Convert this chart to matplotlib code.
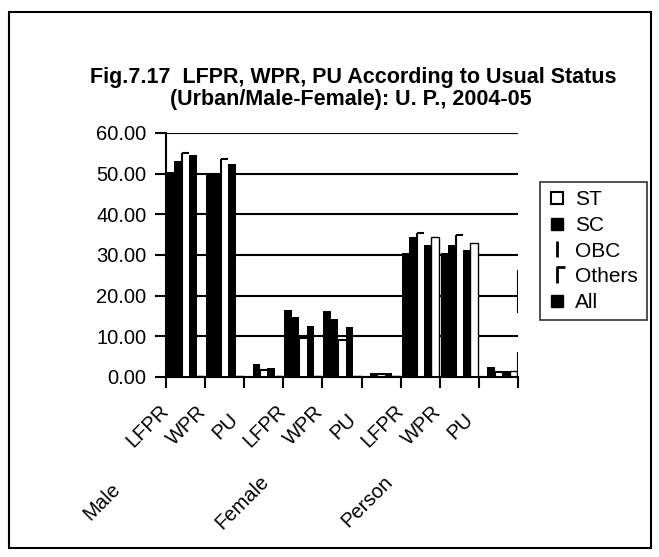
import matplotlib.pyplot as plt
import numpy as np
from matplotlib.path import Path
from matplotlib.lines import Line2D
from matplotlib.patches import Rectangle
from matplotlib.transforms import blended_transform_factory, offset_copy

plt.rcParams['font.family'] = ['Liberation Sans', 'DejaVu Sans']

# indicator per sex group
categories = ['LFPR', 'WPR', 'PU', 'LFPR', 'WPR', 'PU', 'LFPR', 'WPR', 'PU']
groups = ['Male', 'Female', 'Person']

sc = [50.4, 50.2, 0.2, 16.5, 16.3, 0.2, 30.5, 30.4, 0.3]
obc = [53.0, 49.6, 3.3, 14.7, 14.3, 1.0, 34.4, 32.4, 2.5]
others = [55.2, 53.5, 1.8, 9.5, 9.0, 0.8, 35.4, 34.9, 1.2]
all_ = [54.5, 52.5, 2.2, 12.5, 12.3, 1.0, 32.5, 31.2, 1.5]
st = [0.3, 0.3, 0.2, 0.3, 0.3, 0.3, 34.4, 33.0, 1.5]

fig = plt.figure(figsize=(6.59, 5.57), dpi=100)
W, H = 659, 557
ax = fig.add_axes([166 / W, 1 - 377 / H, (518 - 166) / W, (377 - 133) / H])

x = np.arange(len(categories))
w = 0.19

ax.set_yticks(np.arange(0, 61, 10))
ax.yaxis.grid(True, color='black', lw=1.5)
ax.set_axisbelow(True)

ax.bar(x - 2 * w, sc, w, color='black', zorder=2)
ax.bar(x - w, obc, w, color='black', zorder=2)
# "Others" bars: white fill, only the left and top edges drawn
ax.bar(x, others, w, color='white', zorder=2)
ax.vlines(x - w / 2, 0, others, color='black', lw=1.5, zorder=3)
ax.hlines(others, x - w / 2, x + w / 2, color='black', lw=1.5, zorder=3)
ax.bar(x + w, all_, w, color='black', zorder=2)
ax.bar(x + 2 * w, st, w, color='white', edgecolor='black', lw=1, zorder=2)

ax.set_xlim(-0.5, 8.5)
ax.set_ylim(0, 60)
for s in ['top', 'right']:
    ax.spines[s].set_visible(False)
for s in ['left', 'bottom']:
    ax.spines[s].set_linewidth(1.5)
ax.axvline(8.5, ymin=16 / 60, ymax=26 / 60, color='black', lw=1.5)
ax.axvline(8.5, ymin=0.5 / 60, ymax=6 / 60, color='black', lw=1.5)

ax.set_xticks(np.arange(-0.5, 9, 1))
ax.set_xticklabels([])
ax.set_yticklabels(['%.2f' % v for v in range(0, 61, 10)])
ax.tick_params(axis='both', direction='out', length=8, width=1.5, labelsize=14.5, color='black')
ax.tick_params(axis='y', pad=6)

trans = blended_transform_factory(ax.transData, ax.transAxes)
for i, lab in enumerate(categories):
    t = offset_copy(trans, fig=fig, x=-38, y=-49, units='dots')
    ax.text(i, 0, lab, transform=t, rotation=45, ha='center', va='center', fontsize=14.5)

group_dx = [-123, -100, -92]
for g, name in enumerate(groups):
    t = offset_copy(trans, fig=fig, x=group_dx[g], y=-125, units='dots')
    ax.text(3 * g + 1, 0, name, transform=t, rotation=45, ha='center', va='center', fontsize=14.5)

fig.text(0.536, 1 - 78 / H, 'Fig.7.17  LFPR, WPR, PU According to Usual Status',
         ha='center', va='center', fontsize=15.5, weight='bold')
fig.text(0.532, 1 - 100 / H, '(Urban/Male-Female): U. P., 2004-05',
         ha='center', va='center', fontsize=15.5, weight='bold')

gamma = Path([(0, -1), (0, 1), (1, 1)], [Path.MOVETO, Path.LINETO, Path.LINETO])
handles = [
    Line2D([], [], ls='none', marker='s', ms=9, mfc='white', mec='black', mew=1.5),
    Line2D([], [], ls='none', marker='s', ms=9, mfc='black', mec='black'),
    Line2D([], [], ls='none', marker='|', ms=11, mec='black', mew=2),
    Line2D([], [], ls='none', marker=gamma, ms=11, mfc='none', mec='black', mew=2),
    Line2D([], [], ls='none', marker='s', ms=9, mfc='black', mec='black'),
]
leg = fig.legend(handles, ['ST', 'SC', 'OBC', 'Others', 'All'], loc='upper left',
                 bbox_to_anchor=(540 / W, 1 - 182 / H), frameon=True, fancybox=False,
                 edgecolor='black', fontsize=15, handlelength=0.8, handletextpad=0.5,
                 labelspacing=0.32, borderpad=0.4, borderaxespad=0)
leg.get_frame().set_linewidth(1.2)

fig.patches.append(Rectangle((9 / W, 1 - 548 / H), (651 - 9) / W, (548 - 12) / H,
                             transform=fig.transFigure, fill=False, lw=1.5, ec='black'))

fig.savefig('out.png', dpi=100)
